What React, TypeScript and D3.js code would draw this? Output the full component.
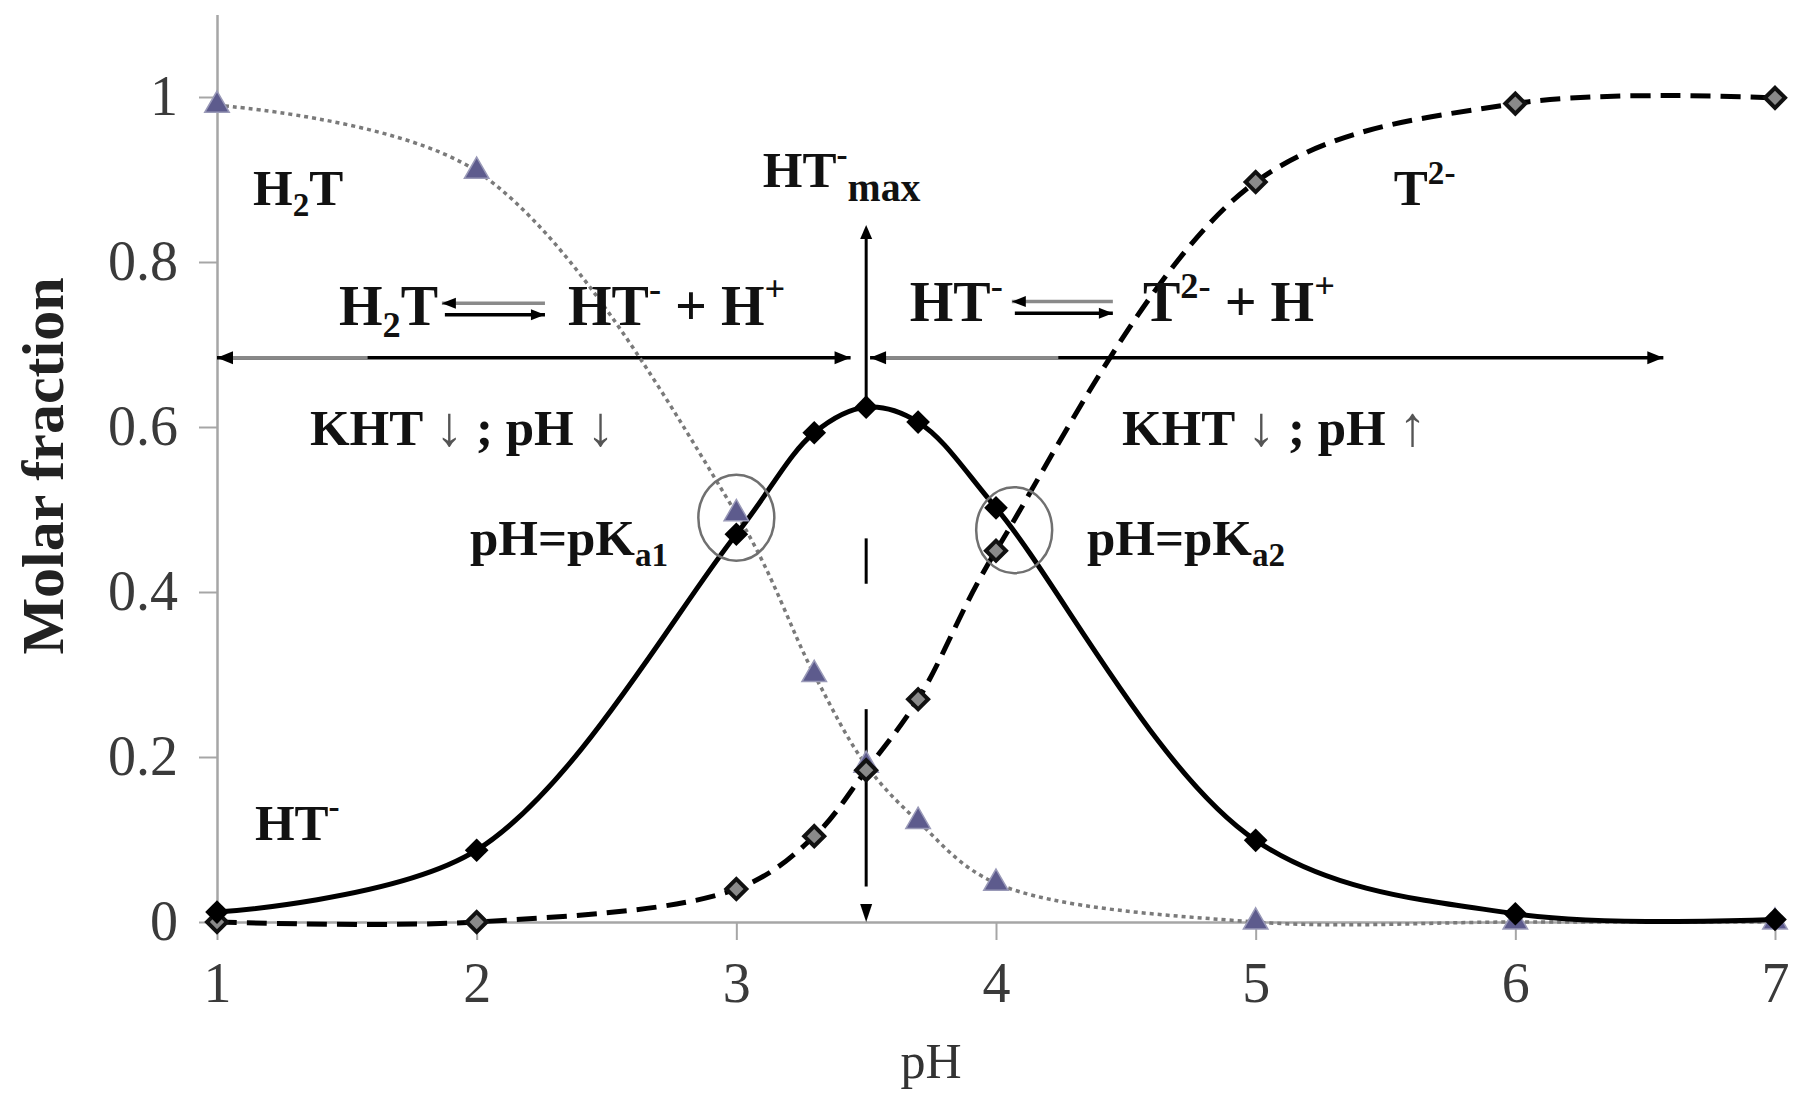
import React, { useEffect, useRef } from 'react';
import * as d3 from 'd3';

// pH values where the species fractions were computed
const pHValues = [1, 2, 3, 3.3, 3.5, 3.7, 4, 5, 6, 7];
const h2tFraction = [0.99, 0.91, 0.495, 0.3, 0.19, 0.122, 0.047, 0.0, 0.0, 0.0];
const htFraction = [0.012, 0.087, 0.47, 0.593, 0.624, 0.606, 0.502, 0.099, 0.01, 0.003];
const t2Fraction = [0.0, 0.0, 0.04, 0.104, 0.184, 0.27, 0.45, 0.897, 0.992, 0.999];

const xTicks = [1, 2, 3, 4, 5, 6, 7];
const yTicks = [0, 0.2, 0.4, 0.6, 0.8, 1];

// annotation labels, placed in (pH, fraction) units
const labels = [
  { x: 1.139, y: 0.869, size: 51, parts: [['H'], ['2', 'sub'], ['T']] },
  { x: 3.102, y: 0.891, size: 51, parts: [['HT'], ['-', 'sup'], ['max', 'sub2']] },
  { x: 5.532, y: 0.869, size: 51, parts: [['T'], ['2-', 'sup']] },
  { x: 1.47, y: 0.724, size: 56, parts: [['H'], ['2', 'sub'], ['T']] },
  { x: 2.352, y: 0.724, size: 56, parts: [['HT'], ['-', 'sup'], [' + H'], ['+', 'sup']] },
  { x: 3.668, y: 0.728, size: 56, parts: [['HT'], ['-', 'sup']] },
  { x: 4.566, y: 0.728, size: 56, parts: [['T'], ['2-', 'sup'], [' + H'], ['+', 'sup']] },
  { x: 1.358, y: 0.578, size: 51, parts: [['KHT '], ['↓', 'arr'], [' ; pH '], ['↓', 'arr']] },
  { x: 4.485, y: 0.578, size: 51, parts: [['KHT '], ['↓', 'arr'], [' ; pH '], ['↑', 'arr']] },
  { x: 1.974, y: 0.445, size: 51, parts: [['pH=pK'], ['a1', 'sub']] },
  { x: 4.35, y: 0.445, size: 51, parts: [['pH=pK'], ['a2', 'sub']] },
  { x: 1.146, y: 0.1, size: 51, parts: [['HT'], ['-', 'sup']] },
];

// double-headed range arrows at the top of the HT- region
const rangeArrows = [
  { from: 1.0, to: 3.44, y: 0.684, grayTo: 1.58 },
  { from: 3.515, to: 6.57, y: 0.684, grayTo: 4.24 },
];
// equilibrium harpoons: [from, to, y upper, y lower]
const equilibria = [
  [1.866, 2.263, 0.75, 0.736],
  [4.061, 4.45, 0.752, 0.738],
];
// circles around pH = pKa points
const pkaCircles = [
  { x: 3.0, y: 0.49 },
  { x: 4.07, y: 0.475 },
];
const htMaxPH = 3.5;

const App = () => {
  const svgRef = useRef<SVGSVGElement>(null);

  useEffect(() => {
    const svg = d3.select(svgRef.current);
    svg.selectAll('*').remove();

    const serif = '"Liberation Serif", "Times New Roman", serif';
    const x = d3.scaleLinear().domain([1, 7]).range([217, 1775]);
    const y = d3.scaleLinear().domain([0, 1.1]).range([922, 14.5]);

    // axes
    const gx = svg.append('g')
      .attr('transform', `translate(0,${y(0)})`)
      .call(d3.axisBottom(x).tickValues(xTicks).tickSize(18).tickSizeOuter(0).tickPadding(22).tickFormat(d3.format('d')));
    const gy = svg.append('g')
      .attr('transform', `translate(${x(1)},0)`)
      .call(d3.axisLeft(y).tickValues(yTicks).tickSize(18).tickSizeOuter(0).tickPadding(21).tickFormat(d3.format('~g')));
    [gx, gy].forEach(g => {
      g.select('.domain').attr('stroke', '#a6a6a6').attr('stroke-width', 2.5);
      g.selectAll('.tick line').attr('stroke', '#a6a6a6').attr('stroke-width', 2);
      g.selectAll('.tick text').attr('fill', '#3a3a3a').attr('font-size', 56).attr('font-family', serif);
    });

    svg.append('text')
      .attr('transform', `translate(63,466) rotate(-90)`)
      .attr('text-anchor', 'middle')
      .attr('font-family', serif).attr('font-weight', 'bold').attr('font-size', 60)
      .attr('fill', '#222')
      .text('Molar fraction');
    svg.append('text')
      .attr('x', x(3.75)).attr('y', 1078)
      .attr('text-anchor', 'middle')
      .attr('font-family', serif).attr('font-size', 50).attr('fill', '#333')
      .text('pH');

    const head = (px: number, py: number, angle: number, len = 16, w = 13) => {
      svg.append('path')
        .attr('d', `M0,0L${-len},${-w / 2}L${-len},${w / 2}Z`)
        .attr('transform', `translate(${px},${py}) rotate(${angle})`)
        .attr('fill', '#000');
    };

    // range arrows
    rangeArrows.forEach(a => {
      const yy = y(a.y);
      svg.append('line').attr('x1', x(a.from)).attr('x2', x(a.to)).attr('y1', yy).attr('y2', yy)
        .attr('stroke', '#000').attr('stroke-width', 3.5);
      svg.append('line').attr('x1', x(a.from) + 8).attr('x2', x(a.grayTo)).attr('y1', yy).attr('y2', yy)
        .attr('stroke', '#888').attr('stroke-width', 3.5);
      head(x(a.from), yy, 180);
      head(x(a.to), yy, 0);
    });

    // equilibrium harpoons
    equilibria.forEach(([f, t, yu, yl]) => {
      svg.append('line').attr('x1', x(f)).attr('x2', x(t)).attr('y1', y(yu)).attr('y2', y(yu))
        .attr('stroke', '#8a8a8a').attr('stroke-width', 3.5);
      head(x(f), y(yu), 180, 14, 11);
      svg.append('line').attr('x1', x(f) + 3).attr('x2', x(t)).attr('y1', y(yl)).attr('y2', y(yl))
        .attr('stroke', '#000').attr('stroke-width', 3.5);
      head(x(t), y(yl), 0, 14, 11);
    });

    // vertical HT-max marker
    const vx = x(htMaxPH);
    const peak = htFraction[pHValues.indexOf(htMaxPH)];
    svg.append('line').attr('x1', vx).attr('x2', vx).attr('y1', y(peak)).attr('y2', y(0.845) + 12)
      .attr('stroke', '#000').attr('stroke-width', 3);
    head(vx, y(0.845), -90, 14, 12);
    [[0.41, 0.465], [0.043, 0.258]].forEach(([a, b]) => {
      svg.append('line').attr('x1', vx).attr('x2', vx).attr('y1', y(a)).attr('y2', y(b))
        .attr('stroke', '#000').attr('stroke-width', 3);
    });
    head(vx, y(0), 90, 18, 12);

    // series
    const line = d3.line<number>()
      .x((_, i) => x(pHValues[i]))
      .y(d => y(d))
      .curve(d3.curveCatmullRom.alpha(0.5));

    svg.append('path').attr('d', line(h2tFraction))
      .attr('fill', 'none').attr('stroke', '#7a7a7a').attr('stroke-width', 3.5).attr('stroke-dasharray', '4 4');
    svg.append('path').attr('d', line(t2Fraction))
      .attr('fill', 'none').attr('stroke', '#000').attr('stroke-width', 5).attr('stroke-dasharray', '20 10');
    svg.append('path').attr('d', line(htFraction))
      .attr('fill', 'none').attr('stroke', '#000').attr('stroke-width', 5);

    const tri = d3.symbol(d3.symbolTriangle, 260)();
    svg.selectAll('.m-h2t').data(h2tFraction).enter().append('path')
      .attr('d', tri)
      .attr('transform', (d, i) => `translate(${x(pHValues[i])},${y(d)})`)
      .attr('fill', '#5d5b8d').attr('stroke', '#9a9ab8').attr('stroke-width', 1.5);

    const sq = d3.symbol(d3.symbolSquare, 200)();
    svg.selectAll('.m-t').data(t2Fraction).enter().append('path')
      .attr('d', sq)
      .attr('transform', (d, i) => `translate(${x(pHValues[i])},${y(d)}) rotate(45)`)
      .attr('fill', '#8a8a8a').attr('stroke', '#111').attr('stroke-width', 4);

    const sqHT = d3.symbol(d3.symbolSquare, 280)();
    svg.selectAll('.m-ht').data(htFraction).enter().append('path')
      .attr('d', sqHT)
      .attr('transform', (d, i) => `translate(${x(pHValues[i])},${y(d)}) rotate(45)`)
      .attr('fill', '#000');

    // pKa circles
    pkaCircles.forEach(c => {
      svg.append('ellipse').attr('cx', x(c.x)).attr('cy', y(c.y)).attr('rx', 38).attr('ry', 43)
        .attr('fill', 'none').attr('stroke', '#707070').attr('stroke-width', 2.5);
    });

    // labels
    labels.forEach(l => {
      const text = svg.append('text')
        .attr('x', x(l.x)).attr('y', y(l.y))
        .attr('font-family', serif).attr('font-weight', 'bold').attr('font-size', l.size)
        .attr('fill', '#111')
        .style('white-space', 'pre');
      let shift = 0;
      l.parts.forEach(([s, kind]) => {
        let target = 0;
        let fs = l.size;
        if (kind === 'sup') { target = -0.42 * l.size; fs = 0.65 * l.size; }
        if (kind === 'sub') { target = 0.22 * l.size; fs = 0.65 * l.size; }
        if (kind === 'sub2') { target = 0.28 * l.size; fs = 0.78 * l.size; }
        const ts = text.append('tspan').attr('dy', target - shift).attr('font-size', fs).text(s);
        if (kind === 'arr') {
          ts.attr('font-weight', 'normal').attr('fill', '#555').attr('font-size', 1.1 * l.size);
        }
        shift = target;
      });
    });
  }, []);

  return (
    <svg ref={svgRef} width={1798} height={1095}
      style={{ position: 'absolute', left: 0, top: 0, background: '#fff' }} />
  );
};

export default App;
